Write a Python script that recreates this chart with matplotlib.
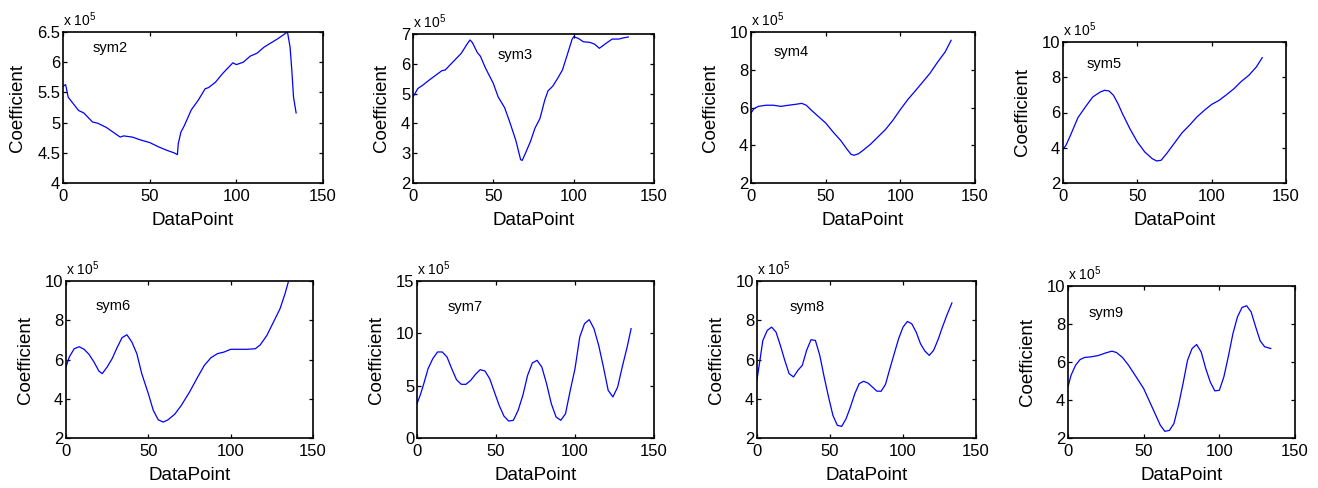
import matplotlib
matplotlib.use("Agg")
import matplotlib.pyplot as plt

plt.rcParams['font.family'] = ['Liberation Sans', 'DejaVu Sans']
plt.rcParams['mathtext.fontset'] = 'custom'
plt.rcParams['mathtext.rm'] = 'Liberation Sans'

# values, coefficient in units of 1e5
sym2_x = [0, 1.5, 3, 6, 9, 12, 17, 20, 25, 30, 33, 35, 40, 45, 50, 55, 60, 64, 66,
          66.5, 68, 70, 74, 78, 82, 84, 88, 92, 96, 98, 100, 104, 108, 112, 116,
          120, 124, 128, 129.5, 131, 132, 133, 134.5]
sym2_y = [5.6, 5.63, 5.42, 5.31, 5.2, 5.16, 5.01, 4.99, 4.92, 4.82, 4.76, 4.78, 4.76,
          4.71, 4.67, 4.6, 4.54, 4.5, 4.47, 4.65, 4.84, 4.95, 5.21, 5.37, 5.56, 5.58,
          5.67, 5.81, 5.93, 5.99, 5.96, 6.0, 6.1, 6.15, 6.25, 6.32, 6.39, 6.47, 6.5,
          6.25, 5.87, 5.42, 5.16]

sym3_x = [0, 1, 3, 6, 10, 15, 18, 20, 25, 30, 34, 35.5, 37, 40, 42, 45, 50, 53, 57,
          60, 64, 67, 68, 70, 73, 76, 79, 82, 84, 87, 90, 93, 96, 99, 100, 103, 106,
          110, 113, 116, 118, 121, 124, 128, 131, 134]
sym3_y = [4.89, 4.98, 5.17, 5.28, 5.45, 5.65, 5.77, 5.79, 6.07, 6.35, 6.69, 6.8, 6.71,
          6.38, 6.25, 5.87, 5.34, 4.89, 4.53, 4.08, 3.43, 2.78, 2.76, 3.0, 3.38, 3.85,
          4.16, 4.78, 5.09, 5.25, 5.51, 5.79, 6.3, 6.82, 6.91, 6.85, 6.74, 6.72, 6.66,
          6.52, 6.6, 6.72, 6.83, 6.83, 6.87, 6.9]

sym4_x = [0, 2, 5, 10, 15, 20, 25, 30, 34, 37, 40, 45, 50, 55, 60, 64, 67, 69, 72,
          75, 80, 85, 90, 95, 100, 105, 110, 115, 120, 125, 130, 134]
sym4_y = [5.71, 5.94, 6.06, 6.12, 6.12, 6.06, 6.12, 6.17, 6.22, 6.12, 5.89, 5.53,
          5.18, 4.7, 4.26, 3.82, 3.52, 3.47, 3.55, 3.73, 4.05, 4.44, 4.83, 5.32, 5.89,
          6.42, 6.88, 7.35, 7.83, 8.41, 8.94, 9.56]

sym5_x = [0, 2, 5, 10, 15, 20, 25, 28, 31, 34, 37, 40, 45, 50, 55, 60, 63, 66, 70,
          75, 80, 85, 90, 95, 100, 105, 110, 115, 120, 125, 130, 134]
sym5_y = [3.91, 4.14, 4.7, 5.7, 6.31, 6.88, 7.16, 7.26, 7.22, 6.97, 6.5, 5.93, 5.08,
          4.33, 3.76, 3.38, 3.25, 3.29, 3.7, 4.27, 4.84, 5.27, 5.74, 6.12, 6.46, 6.69,
          7.01, 7.35, 7.77, 8.11, 8.58, 9.11]

sym6_x = [0, 2, 5, 8, 11, 14, 17, 20, 22, 25, 28, 31, 34, 37, 40, 43, 46, 50, 53,
          56, 59, 62, 66, 70, 75, 80, 84, 88, 92, 96, 100, 105, 110, 115, 118, 122,
          126, 130, 133, 135]
sym6_y = [5.62, 6.13, 6.55, 6.65, 6.52, 6.26, 5.87, 5.41, 5.28, 5.62, 6.04, 6.6,
          7.11, 7.26, 6.89, 6.3, 5.28, 4.26, 3.41, 2.93, 2.81, 2.93, 3.21, 3.66, 4.34,
          5.11, 5.7, 6.09, 6.3, 6.38, 6.52, 6.52, 6.52, 6.55, 6.75, 7.23, 7.91, 8.59,
          9.35, 9.95]

sym7_x = [0, 2, 4, 7, 10, 13, 16, 19, 22, 25, 28, 31, 34, 37, 40, 43, 46, 49, 52,
          55, 58, 61, 64, 67, 70, 73, 76, 79, 82, 85, 88, 91, 94, 97, 100, 103, 106,
          109, 112, 115, 118, 121, 124, 127, 130, 133, 135.5]
sym7_y = [3.28, 4.08, 5.03, 6.62, 7.58, 8.22, 8.22, 7.74, 6.62, 5.57, 5.13, 5.13,
          5.51, 6.08, 6.53, 6.4, 5.67, 4.39, 3.12, 2.1, 1.62, 1.69, 2.64, 4.08, 5.99,
          7.17, 7.42, 6.78, 5.19, 3.28, 2.01, 1.69, 2.32, 4.55, 6.62, 9.65, 10.92,
          11.31, 10.45, 8.85, 6.78, 4.55, 3.92, 4.87, 6.85, 8.69, 10.45]

sym8_x = [0, 2, 4, 7, 10, 13, 16, 19, 22, 25, 28, 31, 34, 37, 40, 43, 46, 49, 52,
          55, 58, 61, 64, 67, 70, 73, 76, 79, 82, 85, 88, 91, 94, 97, 100, 103, 106,
          109, 112, 115, 118, 121, 124, 127, 130, 133.5]
sym8_y = [4.97, 5.96, 6.97, 7.48, 7.65, 7.4, 6.72, 5.96, 5.28, 5.11, 5.45, 5.7, 6.47,
          7.01, 6.97, 6.21, 5.11, 4.09, 3.15, 2.65, 2.59, 2.98, 3.58, 4.26, 4.77, 4.89,
          4.8, 4.6, 4.39, 4.38, 4.73, 5.53, 6.3, 7.06, 7.65, 7.94, 7.82, 7.4, 6.8,
          6.43, 6.21, 6.47, 7.01, 7.65, 8.25, 8.88]

sym9_x = [0, 2, 5, 8, 11, 15, 20, 25, 29, 32, 36, 40, 45, 50, 54, 58, 61, 64, 67,
          70, 73, 76, 79, 82, 85, 88, 91, 94, 97, 100, 103, 106, 109, 112, 115, 118,
          121, 124, 127, 130, 134]
sym9_y = [4.69, 5.3, 5.83, 6.13, 6.24, 6.27, 6.34, 6.48, 6.57, 6.5, 6.24, 5.83, 5.22,
          4.6, 3.9, 3.2, 2.67, 2.35, 2.4, 2.76, 3.72, 4.86, 6.1, 6.71, 6.92, 6.53,
          5.66, 4.95, 4.48, 4.51, 5.22, 6.31, 7.5, 8.38, 8.87, 8.96, 8.64, 7.85, 7.11,
          6.8, 6.71]

names = ['sym2', 'sym3', 'sym4', 'sym5', 'sym6', 'sym7', 'sym8', 'sym9']
xs = [sym2_x, sym3_x, sym4_x, sym5_x, sym6_x, sym7_x, sym8_x, sym9_x]
ys = [sym2_y, sym3_y, sym4_y, sym5_y, sym6_y, sym7_y, sym8_y, sym9_y]
ylims = [(4, 6.5), (2, 7), (2, 10), (2, 10), (2, 10), (0, 15), (2, 10), (2, 10)]
ysteps = [0.5, 1, 2, 2, 2, 5, 2, 2]

W, H = 1318, 488
# axes boxes in pixels: left, top, right, bottom
boxes = [(63, 32, 323, 183), (413, 34, 654, 183), (751, 32, 975, 183),
         (1063, 42, 1286, 183), (66, 281, 313, 438), (417, 281, 654, 438),
         (757, 281, 976, 438), (1068, 286, 1295, 438)]
label_pos = [(0.115, 0.894), (0.35, 0.86), (0.10, 0.87), (0.107, 0.844),
             (0.12, 0.84), (0.13, 0.835), (0.15, 0.835), (0.09, 0.82)]

fig = plt.figure(figsize=(W / 100, H / 100), dpi=100)

for i in range(8):
    l, t, r, b = boxes[i]
    ax = fig.add_axes([l / W, 1 - b / H, (r - l) / W, (b - t) / H])
    ax.plot(xs[i], ys[i], color='blue', lw=0.9)
    ax.set_xlim(0, 150)
    ax.set_xticks([0, 50, 100, 150])
    lo, hi = ylims[i]
    ax.set_ylim(lo, hi)
    ticks = []
    v = lo
    while v <= hi + 1e-9:
        ticks.append(v)
        v += ysteps[i]
    ax.set_yticks(ticks)
    ax.set_yticklabels(['%g' % v for v in ticks])
    ax.tick_params(direction='in', top=True, right=True, length=3,
                   labelsize=12, width=0.9, pad=2)
    ax.tick_params(axis='x', pad=4)
    for s in ax.spines.values():
        s.set_linewidth(1.2)
    ax.set_xlabel('DataPoint', fontsize=13.5, labelpad=6)
    ax.set_ylabel('Coefficient', fontsize=13.5, labelpad=8)
    ax.text(0.0, 1.02, 'x 10$^5$', transform=ax.transAxes, fontsize=10,
            ha='left', va='bottom')
    ax.text(label_pos[i][0], label_pos[i][1], names[i], transform=ax.transAxes,
            fontsize=10.5, ha='left', va='center')

fig.savefig('out.png', dpi=100)
